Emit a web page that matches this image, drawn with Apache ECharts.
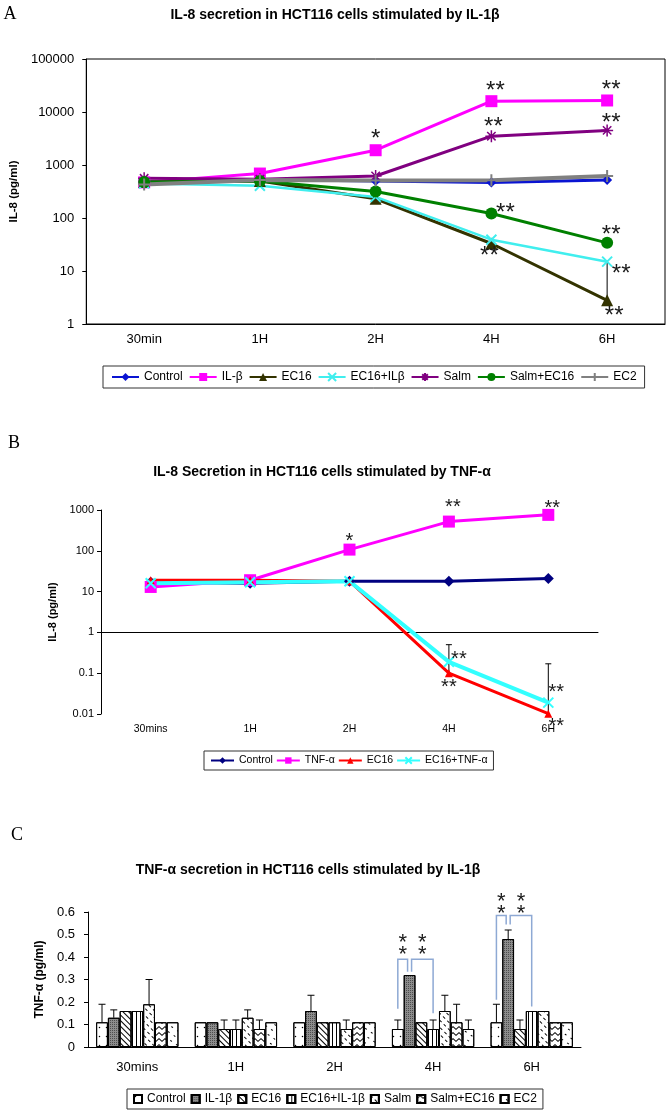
<!DOCTYPE html>
<html lang="en">
<head>
<meta charset="utf-8">
<title>IL-8 and TNF-α secretion in HCT116 cells</title>
<script src="https://cdn.jsdelivr.net/npm/echarts@6/dist/echarts.min.js"></script>
<style>
  body { margin: 0; background: #fff; }
  #main { width: 667px; height: 1116px; }
</style>
</head>
<body>
<div id="main"></div>
<script>
// ---- panel A : IL-8 (pg/ml), stimulated by IL-1β ----
var timesA = ['30min', '1H', '2H', '4H', '6H'];
var controlA  = [480, 530, 500, 466, 520];
var ilbA      = [470, 690, 1900, 16000, 16500];
var ec16A     = [480, 500, 230, 33, 2.8];
var ec16ilbA  = [450, 405, 250, 39, 15];
var salmA     = [560, 540, 620, 3500, 4500];
var salmEc16A = [480, 500, 316, 122, 34];
var ec2A      = [430, 520, 510, 518, 620];
// [time index, low, high]
var errA = [[4, 2.8, 15]];

// ---- panel B : IL-8 (pg/ml), stimulated by TNF-α ----
var timesB = ['30mins', '1H', '2H', '4H', '6H'];
var controlB  = [17, 16, 18, 18, 21];
var tnfB      = [13, 19, 107, 520, 760];
var ec16B     = [19, 19, 18, 0.1, 0.0102];
var ec16tnfB  = [16, 17, 18, 0.19, 0.019];
var errB = [[3, 0.1, 0.5], [4, 0.0102, 0.17]];

// ---- panel C : TNF-α (pg/ml), stimulated by IL-1β ----
var timesC = ['30mins', '1H', '2H', '4H', '6H'];
var groupsC = ['Control', 'IL-1β', 'EC16', 'EC16+IL-1β', 'Salm', 'Salm+EC16', 'EC2'];
var controlC  = [0.11, 0.11, 0.11, 0.08, 0.11];
var il1bC     = [0.13, 0.11, 0.16, 0.32, 0.48];
var ec16C     = [0.16, 0.08, 0.11, 0.11, 0.08];
var ec16il1bC = [0.16, 0.08, 0.11, 0.08, 0.16];
var salmC     = [0.19, 0.13, 0.08, 0.16, 0.16];
var salmEc16C = [0.11, 0.08, 0.11, 0.11, 0.11];
var ec2C      = [0.11, 0.11, 0.11, 0.08, 0.11];
// upper end of the error bar, null = none drawn
var errTopC = [
  [0.19, null, null, 0.12, 0.19],
  [0.165, null, 0.23, null, 0.52],
  [null, 0.12, null, null, 0.12],
  [null, 0.12, null, 0.12, null],
  [0.30, 0.165, 0.12, 0.23, null],
  [null, 0.12, null, 0.19, null],
  [null, null, null, 0.12, null]
];
// [time, bar a, bar b, bracket top, foot a, foot b, stars]
var bracketsC = [
  [3, 0, 1, 0.39, 0.17, 0.335, 0.46],
  [3, 1, 3, 0.39, 0.335, 0.15, 0.46],
  [4, 0, 1, 0.585, 0.21, 0.545, 0.64],
  [4, 1, 3, 0.585, 0.545, 0.18, 0.64]
];

var FONT = '"Liberation Sans", Arial, sans-serif';
var SERIF = '"Liberation Serif", "Times New Roman", serif';
var X_SYM = 'path://M0,0L10,10M10,0L0,10';
var STAR_SYM = 'path://M5,0L5,10M0,5L10,5M1.5,1.5L8.5,8.5M8.5,1.5L1.5,8.5';
var PLUS_SYM = 'path://M5,0L5,10M0,5L10,5';
var CAT_GAP = 0.165;

// significance marks: index -> [text, dx, dy]
var starsA = {
  ilb: {2: ['*', 0, -16], 3: ['**', 4, -15], 4: ['**', 4, -15]},
  salm: {3: ['**', 2, -14], 4: ['**', 4, -12]},
  salmEc16: {3: ['**', 14, -5], 4: ['**', 4, -13]},
  ec16: {3: ['**', -2, 8], 4: ['**', 7, 11]},
  ec16ilb: {4: ['**', 14, 7]}
};
var starsB = {
  tnf: {2: ['*', 0, -13], 3: ['**', 4, -19], 4: ['**', 4, -11]},
  ec16tnf: {3: ['**', 10, -7], 4: ['**', 8, -15]},
  ec16: {3: ['**', 0, 10], 4: ['**', 8, 8]}
};

function starred(values, notes, size) {
  return values.map(function (v, i) {
    var n = notes && notes[i];
    if (!n) return v;
    return {
      value: v,
      label: {
        show: true, formatter: n[0], position: 'inside',
        offset: [n[1], n[2] + size * 0.22],
        fontSize: size, color: '#1a1a1a', fontFamily: FONT,
        align: 'center', verticalAlign: 'middle'
      }
    };
  });
}

function lineSeries(panel, name, values, color, symbol, size, width, notes, bw) {
  var a = panel === 'A' ? 0 : 1;
  return {
    name: panel + '|' + name, type: 'line',
    xAxisIndex: a, yAxisIndex: a,
    data: starred(values, notes, panel === 'A' ? 24 : 20),
    symbol: symbol, symbolSize: size, showSymbol: true,
    lineStyle: {color: color, width: width},
    itemStyle: {color: color, borderColor: color, borderWidth: bw || 0},
    emphasis: {disabled: true}
  };
}

function errorBar(cap) {
  return function (params, api) {
    var x = api.value(0);
    var lo = api.coord([x, api.value(1)]);
    var hi = api.coord([x, api.value(2)]);
    var st = {stroke: '#000', lineWidth: 1};
    var kids = [{type: 'line', shape: {x1: lo[0], y1: lo[1], x2: hi[0], y2: hi[1]}, style: st}];
    if (cap) kids.push({type: 'line', shape: {x1: hi[0] - cap, y1: hi[1], x2: hi[0] + cap, y2: hi[1]}, style: st});
    return {type: 'group', children: kids};
  };
}

function barCenter(api, cat, bar) {
  var band = api.size([1, 0])[0];
  var groupW = band * (1 - CAT_GAP);
  return api.coord([cat, 0])[0] - groupW / 2 + groupW / 7 * (bar + 0.5);
}

function dropPrefix(name) { return name.split('|').pop(); }

var decals = [
  {symbol: 'circle', symbolSize: 0.5, color: '#000', dashArrayX: [3, 4], dashArrayY: [3, 6]},
  {symbol: 'rect', symbolSize: 1, color: 'rgba(0,0,0,0.45)', dashArrayX: [1, 1], dashArrayY: [1, 1]},
  {symbol: 'rect', symbolSize: 1, color: '#000', dashArrayX: [1, 0], dashArrayY: [1, 2.5], rotation: Math.PI / 4},
  {symbol: 'rect', symbolSize: 1, color: '#000', dashArrayX: [1, 2.6], dashArrayY: [1, 0]},
  {symbol: 'rect', symbolSize: 1, color: '#000', dashArrayX: [3, 3], dashArrayY: [1, 4], rotation: Math.PI / 4},
  {symbol: 'path://M0,4L4,0L8,4L8,6L4,2L0,6Z', symbolSize: 1, symbolKeepAspect: false, color: '#000', dashArrayX: [6, 0], dashArrayY: [4, 2]},
  {symbol: 'rect', symbolSize: 1, color: '#000', dashArrayX: [2, 5], dashArrayY: [1, 5], rotation: 0.6}
];
var valuesC = [controlC, il1bC, ec16C, ec16il1bC, salmC, salmEc16C, ec2C];

var barSeries = groupsC.map(function (g, i) {
  return {
    name: 'C|' + g, type: 'bar', xAxisIndex: 3, yAxisIndex: 2,
    data: valuesC[i], barGap: '0%', barCategoryGap: (CAT_GAP * 100) + '%',
    itemStyle: {color: i === 1 ? '#8c8c8c' : '#fff', borderColor: '#000', borderWidth: 1, decal: decals[i]},
    emphasis: {disabled: true}
  };
});

var errRowsC = [];
errTopC.forEach(function (row, s) {
  row.forEach(function (top, t) {
    if (top != null) errRowsC.push([t, s, valuesC[s][t], top]);
  });
});

var axisLine = {lineStyle: {color: '#000', width: 1}};
var labelA = {color: '#000', fontFamily: FONT, fontSize: 13};
var labelB = {color: '#000', fontFamily: FONT, fontSize: 10.5};

var option = {
  animation: false,
  backgroundColor: '#fff',
  graphic: [
    {type: 'text', x: 10, y: 14, style: {text: 'A', font: '18px ' + SERIF, fill: '#000', textAlign: 'center', textVerticalAlign: 'middle'}},
    {type: 'text', x: 14, y: 443, style: {text: 'B', font: '18px ' + SERIF, fill: '#000', textAlign: 'center', textVerticalAlign: 'middle'}},
    {type: 'text', x: 17, y: 835, style: {text: 'C', font: '18px ' + SERIF, fill: '#000', textAlign: 'center', textVerticalAlign: 'middle'}},
    {type: 'text', x: 335, y: 15, style: {text: 'IL-8 secretion in HCT116 cells stimulated by IL-1β', font: 'bold 14px ' + FONT, fill: '#000', textAlign: 'center', textVerticalAlign: 'middle'}},
    {type: 'text', x: 322, y: 472, style: {text: 'IL-8 Secretion in HCT116 cells stimulated by TNF-α', font: 'bold 14px ' + FONT, fill: '#000', textAlign: 'center', textVerticalAlign: 'middle'}},
    {type: 'text', x: 308, y: 870, style: {text: 'TNF-α secretion in HCT116 cells stimulated by IL-1β', font: 'bold 14px ' + FONT, fill: '#000', textAlign: 'center', textVerticalAlign: 'middle'}}
  ],
  grid: [
    {left: 77, top: 59, width: 588, height: 265, show: true, borderColor: '#000', borderWidth: 1},
    {left: 101, top: 510, width: 497, height: 204},
    {left: 88, top: 912, width: 493, height: 135}
  ],
  legend: [
    {
      data: ['Control', 'IL-β', 'EC16', 'EC16+ILβ', 'Salm', 'Salm+EC16', 'EC2'].map(function (n) { return 'A|' + n; }),
      formatter: dropPrefix, left: 103, top: 366, padding: [5, 8], itemGap: 6,
      itemWidth: 27, itemHeight: 10, borderColor: '#333', borderWidth: 1,
      textStyle: {color: '#000', fontFamily: FONT, fontSize: 12}
    },
    {
      data: ['Control', 'TNF-α', 'EC16', 'EC16+TNF-α'].map(function (n) { return 'B|' + n; }),
      formatter: dropPrefix, left: 204, top: 751, padding: [4, 6], itemGap: 3,
      itemWidth: 23, itemHeight: 8, borderColor: '#333', borderWidth: 1,
      textStyle: {color: '#000', fontFamily: FONT, fontSize: 10.5}
    },
    {
      data: groupsC.map(function (n) { return 'C|' + n; }),
      formatter: dropPrefix, left: 127, top: 1089, padding: [4, 6], itemGap: 5,
      itemWidth: 8, itemHeight: 8, icon: 'rect', borderColor: '#333', borderWidth: 1,
      textStyle: {color: '#000', fontFamily: FONT, fontSize: 12}
    }
  ],
  xAxis: [
    {type: 'category', gridIndex: 0, data: timesA, boundaryGap: true, axisLine: axisLine,
     axisTick: {length: 5, lineStyle: {color: '#000'}}, axisLabel: Object.assign({margin: 9}, labelA)},
    {type: 'category', gridIndex: 1, data: timesB, boundaryGap: true, axisLine: {show: false},
     axisTick: {show: false}, axisLabel: Object.assign({margin: 10}, labelB)},
    {type: 'category', gridIndex: 1, data: timesB, boundaryGap: true, position: 'bottom', offset: -82,
     axisLine: axisLine, axisTick: {length: 4, lineStyle: {color: '#000'}}, axisLabel: {show: false}},
    {type: 'category', gridIndex: 2, data: timesC, boundaryGap: true, axisLine: axisLine,
     axisTick: {length: 5, lineStyle: {color: '#000'}}, axisLabel: Object.assign({margin: 14}, labelA)}
  ],
  yAxis: [
    {type: 'log', gridIndex: 0, logBase: 10, min: 1, max: 100000, axisLine: {show: true, lineStyle: {color: '#000'}},
     axisTick: {show: true, length: 4, lineStyle: {color: '#000'}}, splitLine: {show: false},
     axisLabel: Object.assign({margin: 12, formatter: function (v) { return String(Math.round(v)); }}, labelA),
     name: 'IL-8 (pg/ml)', nameLocation: 'middle', nameGap: 58,
     nameTextStyle: {fontFamily: FONT, fontWeight: 'bold', fontSize: 11.5, color: '#000'}},
    {type: 'log', gridIndex: 1, logBase: 10, min: 0.01, max: 1000, axisLine: {show: true, lineStyle: {color: '#000'}},
     axisTick: {show: true, length: 4, lineStyle: {color: '#000'}}, splitLine: {show: false},
     axisLabel: Object.assign({margin: 7, formatter: function (v) { return String(+v.toPrecision(4)); }}, labelB, {fontSize: 11}),
     name: 'IL-8 (pg/ml)', nameLocation: 'middle', nameGap: 40,
     nameTextStyle: {fontFamily: FONT, fontWeight: 'bold', fontSize: 11, color: '#000'}},
    {type: 'value', gridIndex: 2, min: 0, max: 0.6, interval: 0.1, axisLine: {show: true, lineStyle: {color: '#000'}},
     axisTick: {show: true, length: 4, lineStyle: {color: '#000'}}, splitLine: {show: false},
     axisLabel: Object.assign({margin: 13, formatter: function (v) { return v === 0 ? '0' : v.toFixed(1); }}, labelA),
     name: 'TNF-α (pg/ml)', nameLocation: 'middle', nameGap: 36,
     nameTextStyle: {fontFamily: FONT, fontWeight: 'bold', fontSize: 12, color: '#000'}}
  ],
  series: [
    lineSeries('A', 'Control', controlA, '#0a14d2', 'diamond', 10, 3),
    lineSeries('A', 'IL-β', ilbA, '#ff00ff', 'rect', 12, 3, starsA.ilb),
    lineSeries('A', 'EC16', ec16A, '#333300', 'triangle', 12, 3, starsA.ec16),
    lineSeries('A', 'EC16+ILβ', ec16ilbA, '#40eeee', X_SYM, 10, 2.5, starsA.ec16ilb, 2),
    lineSeries('A', 'Salm', salmA, '#800080', STAR_SYM, 12, 3, starsA.salm, 1.5),
    lineSeries('A', 'Salm+EC16', salmEc16A, '#008000', 'circle', 12, 3, starsA.salmEc16),
    lineSeries('A', 'EC2', ec2A, '#808080', PLUS_SYM, 12, 4, null, 2),
    {type: 'custom', xAxisIndex: 0, yAxisIndex: 0, data: errA, renderItem: errorBar(0), z: 3, silent: true},

    lineSeries('B', 'Control', controlB, '#000080', 'diamond', 11, 3),
    lineSeries('B', 'TNF-α', tnfB, '#ff00ff', 'rect', 12, 3, starsB.tnf),
    lineSeries('B', 'EC16', ec16B, '#ff0000', 'triangle', 8, 3, starsB.ec16),
    lineSeries('B', 'EC16+TNF-α', ec16tnfB, '#33ffff', X_SYM, 10, 4, starsB.ec16tnf, 2),
    {type: 'custom', xAxisIndex: 1, yAxisIndex: 1, data: errB, renderItem: errorBar(3), z: 3, silent: true}
  ].concat(barSeries, [
    {
      type: 'custom', xAxisIndex: 3, yAxisIndex: 2, data: errRowsC, encode: {x: 0, y: [2, 3]}, z: 3, silent: true,
      renderItem: function (params, api) {
        var cat = api.value(0);
        var x = barCenter(api, cat, api.value(1));
        var y0 = api.coord([cat, api.value(2)])[1];
        var y1 = api.coord([cat, api.value(3)])[1];
        var st = {stroke: '#000', lineWidth: 1};
        return {type: 'group', children: [
          {type: 'line', shape: {x1: x, y1: y0, x2: x, y2: y1}, style: st},
          {type: 'line', shape: {x1: x - 3.5, y1: y1, x2: x + 3.5, y2: y1}, style: st}
        ]};
      }
    },
    {
      type: 'custom', xAxisIndex: 3, yAxisIndex: 2, data: bracketsC, encode: {x: 0, y: 3}, z: 3, silent: true,
      renderItem: function (params, api) {
        var cat = api.value(0), a = api.value(1), b = api.value(2);
        var xa = barCenter(api, cat, a), xb = barCenter(api, cat, b);
        var dir = xb > xa ? 1 : -1;
        if (a === 1) xa += 2 * dir;
        if (b === 1) xb -= 2 * dir;
        var top = api.coord([cat, api.value(3)])[1];
        var ya = api.coord([cat, api.value(4)])[1];
        var yb = api.coord([cat, api.value(5)])[1];
        var ys = api.coord([cat, api.value(6)])[1];
        var xm = (xa + xb) / 2;
        var starStyle = {text: '*', font: '22px ' + FONT, fill: '#1a1a1a', textAlign: 'center', textVerticalAlign: 'middle'};
        return {type: 'group', children: [
          {type: 'polyline', shape: {points: [[xa, ya], [xa, top], [xb, top], [xb, yb]]},
           style: {stroke: '#8ea9d4', lineWidth: 1.5, fill: null}},
          {type: 'text', x: xm, y: ys - 6 + 5, style: starStyle},
          {type: 'text', x: xm, y: ys + 6 + 5, style: starStyle}
        ]};
      }
    }
  ])
};

var chart = echarts.init(document.getElementById('main'));
chart.setOption(option);
</script>
</body>
</html>
